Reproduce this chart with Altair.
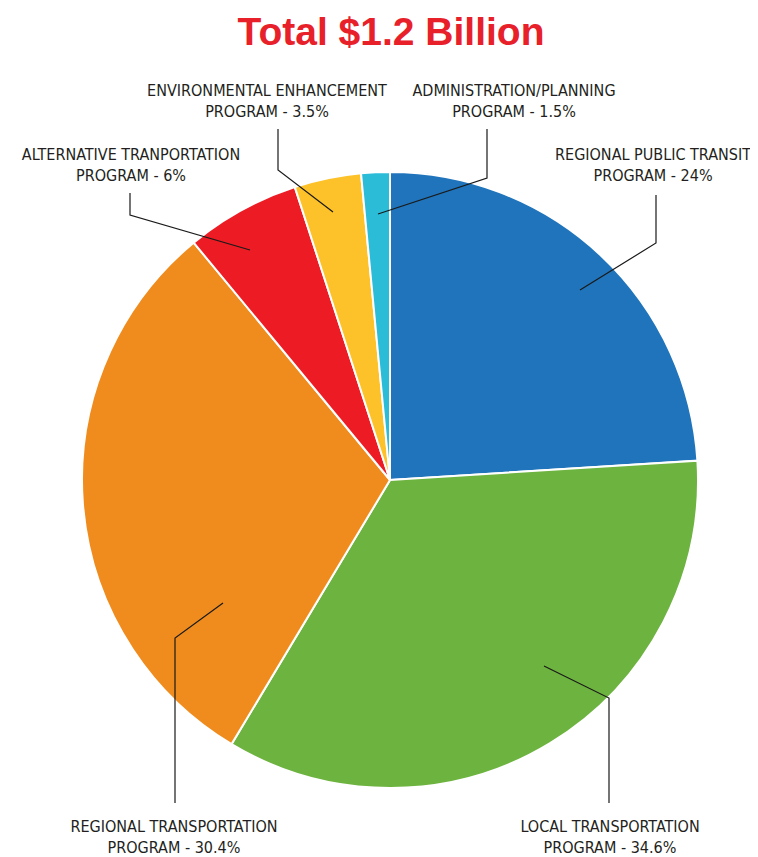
import altair as alt
import pandas as pd

# Data
programs = [
    "Regional Public Transit",
    "Local Transportation",
    "Regional Transportation",
    "Alternative Tranportation",
    "Environmental Enhancement",
    "Administration/Planning",
]
shares = [24, 34.6, 30.4, 6, 3.5, 1.5]
label_lines1 = [
    "REGIONAL PUBLIC TRANSIT",
    "LOCAL TRANSPORTATION",
    "REGIONAL TRANSPORTATION",
    "ALTERNATIVE TRANPORTATION",
    "ENVIRONMENTAL ENHANCEMENT",
    "ADMINISTRATION/PLANNING",
]
label_lines2 = [
    "PROGRAM - 24%",
    "PROGRAM - 34.6%",
    "PROGRAM - 30.4%",
    "PROGRAM - 6%",
    "PROGRAM - 3.5%",
    "PROGRAM - 1.5%",
]
colors = ["#1f74bb", "#6db33f", "#f08c1e", "#ed1c24", "#fdc22a", "#2bbcd8"]

# Layout (pixel positions of labels and leader lines)
label_x = [645, 602, 166, 123, 259, 506]
label_y = [152, 824, 824, 152, 88, 88]
leader_pts = [
    [(572, 282), (648, 235), (648, 187)],
    [(536, 658), (601, 690), (601, 795)],
    [(215, 595), (167, 630), (167, 795)],
    [(242, 242), (122, 207), (122, 185)],
    [(325, 204), (270, 162), (270, 121)],
    [(370, 206), (479, 170), (479, 121)],
]
W, H = 742, 849
CX, CY, R = 382, 472, 308
FONT = "DejaVu Sans Condensed, Liberation Sans Narrow, sans-serif"
TITLE_FONT = "Liberation Sans, Arial, sans-serif"

pie_df = pd.DataFrame({"program": programs, "share": shares, "idx": range(len(programs))})
lab_df = pd.DataFrame({
    "text": [f"{a}\n{b}" for a, b in zip(label_lines1, label_lines2)],
    "x": label_x, "y": label_y,
})
rows = []
for p, pts in zip(programs, leader_pts):
    for k, (x, y) in enumerate(pts):
        rows.append({"program": p, "k": k, "x": x, "y": y})
lead_df = pd.DataFrame(rows)

pie = alt.Chart(pie_df).mark_arc(radius=R, stroke="white", strokeWidth=2).encode(
    theta=alt.Theta("share:Q", stack=True),
    order=alt.Order("idx:Q"),
    color=alt.Color("program:N", scale=alt.Scale(domain=programs, range=colors), legend=None),
    x=alt.value(CX),
    y=alt.value(CY),
)

leaders = alt.Chart(lead_df).mark_line(color="#1a1a1a", strokeWidth=1.2).encode(
    x=alt.X("x:Q", scale=None, axis=None),
    y=alt.Y("y:Q", scale=None, axis=None),
    detail="program:N",
    order="k:Q",
)

labels = alt.Chart(lab_df).mark_text(
    font=FONT, fontSize=16, color="#231f20", lineBreak="\n", lineHeight=21,
    align="center", baseline="alphabetic",
).encode(
    x=alt.X("x:Q", scale=None, axis=None),
    y=alt.Y("y:Q", scale=None, axis=None),
    text="text:N",
)

title_df = pd.DataFrame({"t": ["Total $1.2 Billion"], "x": [383], "y": [37]})
title = alt.Chart(title_df).mark_text(
    font=TITLE_FONT, fontSize=39, fontWeight="bold", color="#e8202a",
    align="center", baseline="alphabetic",
).encode(
    x=alt.X("x:Q", scale=None, axis=None),
    y=alt.Y("y:Q", scale=None, axis=None),
    text="t:N",
)

chart = alt.layer(pie, leaders, labels, title).properties(
    width=W, height=H, autosize=alt.AutoSizeParams(type="none"), padding=0,
).configure_view(stroke=None)

chart.save("out.html", embed_options={"renderer": "svg", "actions": False})
